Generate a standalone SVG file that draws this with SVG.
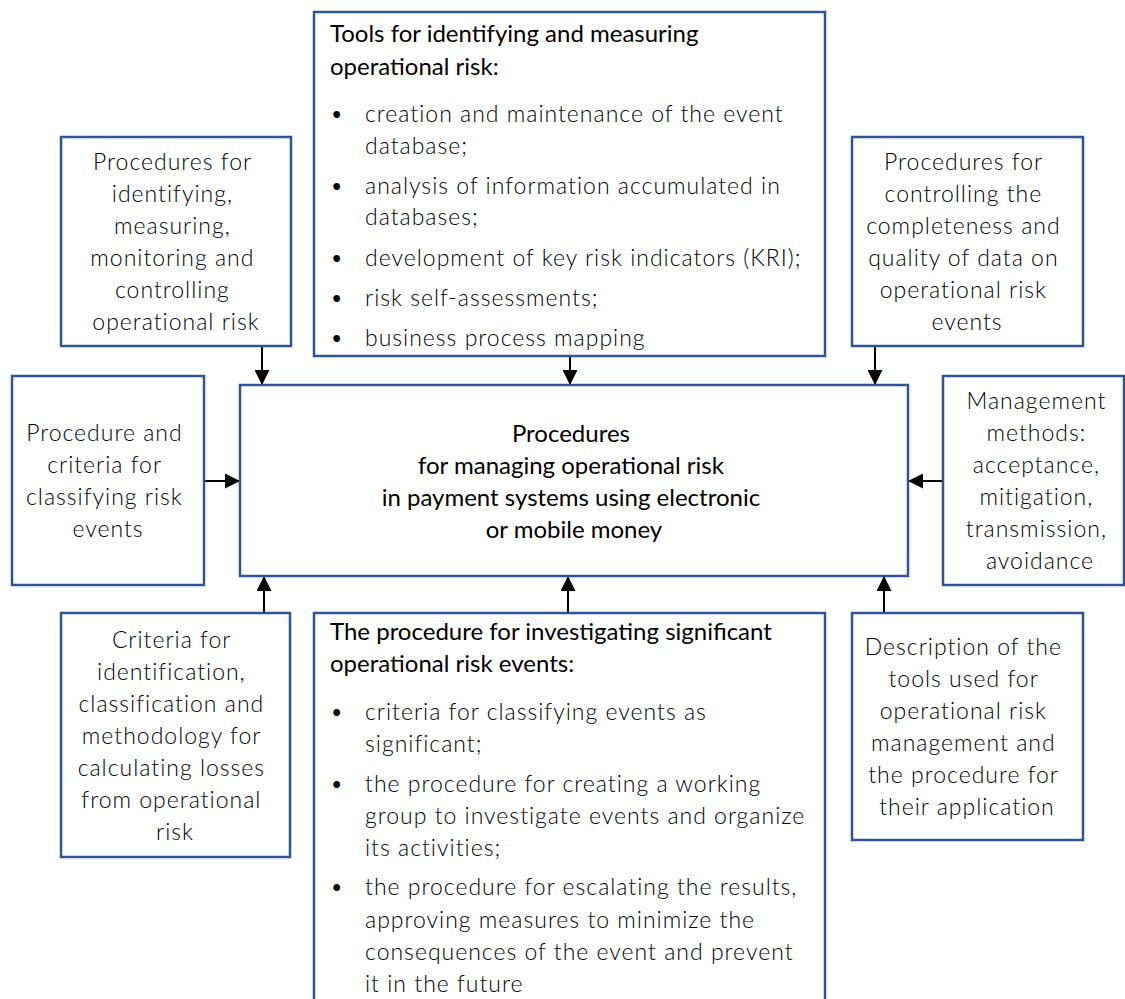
<svg xmlns="http://www.w3.org/2000/svg" width="1125" height="999" viewBox="0 0 1125 999">
  <style>
    .box { fill: #ffffff; stroke: #2f5597; stroke-width: 2.5; }
    .t { font-family: "Lato", "Open Sans", "Liberation Sans", sans-serif; font-weight: 300; font-size: 23px; letter-spacing: 1px; fill: #000; }
    .c { text-anchor: middle; }
    .h { font-family: "Lato", "Liberation Sans", sans-serif; font-weight: 400; font-size: 24px; fill: #000; }
    .wire { stroke: #000; stroke-width: 2; fill: none; marker-end: url(#arrow); }
  </style>
  <defs>
    <marker id="arrow" markerWidth="15" markerHeight="15" refX="14" refY="7.5" orient="auto" markerUnits="userSpaceOnUse">
      <path d="M0,0 L15,7.5 L0,15 Z" fill="#000"/>
    </marker>
  </defs>
  <rect width="1125" height="999" fill="#ffffff"/>

  <!-- connectors -->
  <g id="connectors">
    <line class="wire" x1="262" y1="346" x2="262" y2="384"/>
    <line class="wire" x1="570" y1="356" x2="570" y2="384"/>
    <line class="wire" x1="875" y1="346" x2="875" y2="384"/>
    <line class="wire" x1="204" y1="481" x2="239" y2="481"/>
    <line class="wire" x1="943" y1="481" x2="909" y2="481"/>
    <line class="wire" x1="264" y1="613" x2="264" y2="577"/>
    <line class="wire" x1="568" y1="613" x2="568" y2="577"/>
    <line class="wire" x1="884" y1="613" x2="884" y2="577"/>
  </g>

  <!-- central node -->
  <g id="center">
    <rect class="box" x="240" y="385" width="668" height="191"/>
    <text class="h c" x="574">
      <tspan x="574" y="442">Procedures</tspan>
      <tspan x="574" y="474">for managing operational risk</tspan>
      <tspan x="574" y="506">in payment systems using electronic</tspan>
      <tspan x="574" y="538">or mobile money</tspan>
    </text>
  </g>

  <!-- tools list -->
  <g id="tools">
    <rect class="box" x="314" y="12" width="511" height="344"/>
    <text class="h" x="330" y="42">Tools for identifying and measuring</text>
    <text class="h" x="330" y="75">operational risk:</text>
    <g class="t">
      <text x="330" y="122">•</text>
      <text x="365" y="122">creation and maintenance of the event</text>
      <text x="365" y="154">database;</text>
      <text x="330" y="194">•</text>
      <text x="365" y="194">analysis of information accumulated in</text>
      <text x="365" y="225">databases;</text>
      <text x="330" y="266">•</text>
      <text x="365" y="266">development of key risk indicators (KRI);</text>
      <text x="330" y="306">•</text>
      <text x="365" y="306">risk self-assessments;</text>
      <text x="330" y="346">•</text>
      <text x="365" y="346">business process mapping</text>
    </g>
  </g>

  <g id="procedures-identify">
    <rect class="box" x="61" y="137" width="230" height="209"/>
    <text class="t c">
      <tspan x="176" y="170">Procedures for</tspan>
      <tspan x="176" y="202">identifying,</tspan>
      <tspan x="176" y="234">measuring,</tspan>
      <tspan x="176" y="266">monitoring and</tspan>
      <tspan x="176" y="298">controlling</tspan>
      <tspan x="176" y="330">operational risk</tspan>
    </text>
  </g>

  <g id="procedures-control">
    <rect class="box" x="852" y="137" width="231" height="209"/>
    <text class="t c">
      <tspan x="967" y="170">Procedures for</tspan>
      <tspan x="967" y="202">controlling the</tspan>
      <tspan x="967" y="234">completeness and</tspan>
      <tspan x="967" y="266">quality of data on</tspan>
      <tspan x="967" y="298">operational risk</tspan>
      <tspan x="967" y="330">events</tspan>
    </text>
  </g>

  <g id="classification">
    <rect class="box" x="12" y="376" width="192" height="209"/>
    <text class="t c">
      <tspan x="108" y="441">Procedure and</tspan>
      <tspan x="108" y="473">criteria for</tspan>
      <tspan x="108" y="505">classifying risk</tspan>
      <tspan x="108" y="537">events</tspan>
    </text>
  </g>

  <g id="methods">
    <rect class="box" x="943" y="376" width="181" height="209"/>
    <text class="t c">
      <tspan x="1040" y="409">Management</tspan>
      <tspan x="1040" y="441">methods:</tspan>
      <tspan x="1040" y="473">acceptance,</tspan>
      <tspan x="1040" y="505">mitigation,</tspan>
      <tspan x="1040" y="537">transmission,</tspan>
      <tspan x="1040" y="569">avoidance</tspan>
    </text>
  </g>

  <g id="loss-criteria">
    <rect class="box" x="61" y="613" width="229" height="244"/>
    <text class="t c">
      <tspan x="175" y="648">Criteria for</tspan>
      <tspan x="175" y="680">identification,</tspan>
      <tspan x="175" y="712">classification and</tspan>
      <tspan x="175" y="744">methodology for</tspan>
      <tspan x="175" y="776">calculating losses</tspan>
      <tspan x="175" y="808">from operational</tspan>
      <tspan x="175" y="840">risk</tspan>
    </text>
  </g>

  <g id="investigation">
    <rect class="box" x="314" y="613" width="511" height="400"/>
    <text class="h" x="330" y="640">The procedure for investigating significant</text>
    <text class="h" x="330" y="672">operational risk events:</text>
    <g class="t">
      <text x="330" y="720">•</text>
      <text x="365" y="720">criteria for classifying events as</text>
      <text x="365" y="752">significant;</text>
      <text x="330" y="792">•</text>
      <text x="365" y="792">the procedure for creating a working</text>
      <text x="365" y="824">group to investigate events and organize</text>
      <text x="365" y="856">its activities;</text>
      <text x="330" y="895">•</text>
      <text x="365" y="895">the procedure for escalating the results,</text>
      <text x="365" y="928">approving measures to minimize the</text>
      <text x="365" y="960">consequences of the event and prevent</text>
      <text x="365" y="992">it in the future</text>
    </g>
  </g>

  <g id="tools-description">
    <rect class="box" x="852" y="613" width="231" height="227"/>
    <text class="t c">
      <tspan x="967" y="655">Description of the</tspan>
      <tspan x="967" y="687">tools used for</tspan>
      <tspan x="967" y="719">operational risk</tspan>
      <tspan x="967" y="751">management and</tspan>
      <tspan x="967" y="783">the procedure for</tspan>
      <tspan x="967" y="815">their application</tspan>
    </text>
  </g>
</svg>
